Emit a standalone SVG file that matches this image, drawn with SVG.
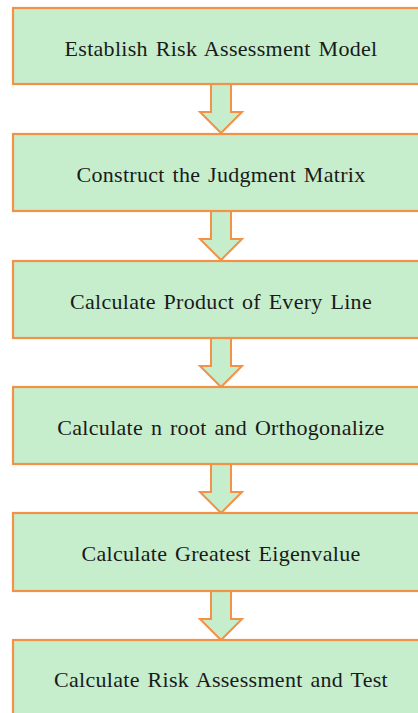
<svg xmlns="http://www.w3.org/2000/svg" width="418" height="713" viewBox="0 0 418 713">
<style>
.box{fill:#C6EECC;stroke:#F39147;stroke-width:2.2}
.arr{fill:#C6EECC;stroke:#F39147;stroke-width:2;stroke-linejoin:miter}
.t{font-family:"Liberation Serif","Times New Roman",serif;font-size:22px;fill:#1a1a1a;text-anchor:middle;word-spacing:2px;letter-spacing:0.3px}
</style>
<rect width="418" height="713" fill="#ffffff"/>
<g id="connectors">
<path class="arr" d="M211,84 L231,84 L231,112 L242,112 L221,133 L200,112 L211,112 Z"/>
<path class="arr" d="M211,211 L231,211 L231,239 L242,239 L221,260 L200,239 L211,239 Z"/>
<path class="arr" d="M211,338 L231,338 L231,366 L242,366 L221,387 L200,366 L211,366 Z"/>
<path class="arr" d="M211,464 L231,464 L231,492 L242,492 L221,513 L200,492 L211,492 Z"/>
<path class="arr" d="M211,591 L231,591 L231,619 L242,619 L221,640 L200,619 L211,619 Z"/>
</g>
<g id="n1"><rect class="box" x="13" y="8" width="420" height="76"/><text class="t" x="221" y="56">Establish Risk Assessment Model</text></g>
<g id="n2"><rect class="box" x="13" y="134" width="420" height="77"/><text class="t" x="221" y="182">Construct the Judgment Matrix</text></g>
<g id="n3"><rect class="box" x="13" y="261" width="420" height="77"/><text class="t" x="221" y="309">Calculate Product of Every Line</text></g>
<g id="n4"><rect class="box" x="13" y="387" width="420" height="77"/><text class="t" x="221" y="435">Calculate n root and Orthogonalize</text></g>
<g id="n5"><rect class="box" x="13" y="513" width="420" height="78"/><text class="t" x="221" y="561">Calculate Greatest Eigenvalue</text></g>
<g id="n6"><rect class="box" x="13" y="640" width="420" height="90"/><text class="t" x="221" y="687">Calculate Risk Assessment and Test</text></g>
</svg>
